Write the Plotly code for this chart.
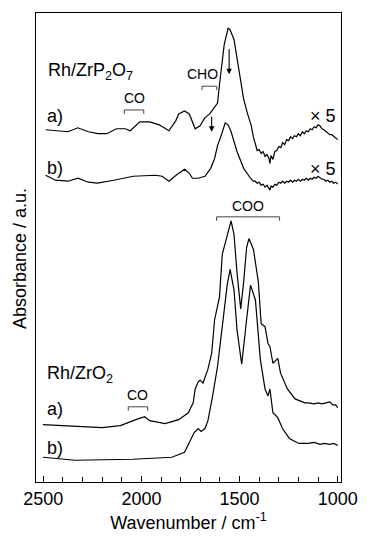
import plotly.graph_objects as go

# ---------------- data ----------------
# Rh/ZrP2O7 a)
zp_a_wn = [2488, 2438, 2374, 2324, 2270, 2221, 2176, 2127, 2082, 2057, 2008, 1958, 1909, 1860,
           1825, 1810, 1780, 1756, 1726, 1701, 1677, 1652, 1627, 1612, 1602, 1592, 1578, 1558,
           1548, 1528, 1503, 1479, 1459,
           1440, 1430, 1420, 1410, 1400, 1390, 1380, 1370, 1360, 1350, 1345, 1340, 1330, 1320,
           1310, 1300, 1290, 1280, 1270, 1260, 1250, 1240, 1230, 1220, 1210, 1200, 1190, 1180,
           1170, 1160, 1150, 1140, 1130, 1120, 1110, 1100, 1090, 1080, 1070, 1060, 1050, 1040,
           1030, 1020, 1010, 1000]
zp_a_abs = [3.56, 3.55, 3.54, 3.58, 3.54, 3.52, 3.52, 3.57, 3.57, 3.55, 3.64, 3.64, 3.61, 3.55,
            3.65, 3.72, 3.75, 3.72, 3.57, 3.60, 3.68, 3.72, 3.79, 3.83, 4.02, 4.20, 4.42, 4.59,
            4.57, 4.47, 4.14, 3.87, 3.72,
            3.60, 3.49, 3.41, 3.35, 3.36, 3.32, 3.34, 3.29, 3.31, 3.27, 3.22, 3.30, 3.26, 3.34,
            3.35, 3.39, 3.38, 3.43, 3.41, 3.46, 3.45, 3.49, 3.47, 3.50, 3.49, 3.52, 3.50, 3.54,
            3.52, 3.55, 3.54, 3.57, 3.56, 3.59, 3.58, 3.61, 3.60, 3.57, 3.56, 3.54, 3.53, 3.51,
            3.51, 3.49, 3.48, 3.46]

# Rh/ZrP2O7 b)
zp_b_wn = [2488, 2438, 2374, 2324, 2270, 2225, 2141, 2097, 2042, 1929, 1894, 1860, 1817, 1780,
           1756, 1740, 1711, 1676, 1647, 1627, 1612, 1592, 1573, 1558, 1543, 1513, 1479, 1444,
           1440, 1430, 1420, 1410, 1400, 1390, 1380, 1370, 1360, 1350, 1345, 1340, 1330, 1320,
           1310, 1300, 1290, 1280, 1270, 1260, 1250, 1240, 1230, 1220, 1210, 1200, 1190, 1180,
           1170, 1160, 1150, 1140, 1130, 1120, 1110, 1100, 1090, 1080, 1070, 1060, 1050, 1040,
           1030, 1020, 1010, 1000]
zp_b_abs = [3.10, 3.05, 3.04, 3.07, 3.03, 3.02, 3.05, 3.07, 3.09, 3.10, 3.09, 3.04, 3.11, 3.16,
            3.12, 3.07, 3.07, 3.09, 3.17, 3.27, 3.40, 3.51, 3.63, 3.61, 3.54, 3.34, 3.17, 3.07,
            3.06, 3.04, 3.04, 3.02, 3.03, 3.00, 3.01, 2.98, 3.00, 2.97, 2.95, 2.99, 2.98, 3.01,
            3.00, 3.03, 3.02, 3.04, 3.02, 3.04, 3.03, 3.05, 3.03, 3.05, 3.04, 3.06, 3.04, 3.06,
            3.05, 3.07, 3.05, 3.07, 3.06, 3.08, 3.07, 3.09, 3.07, 3.06, 3.06, 3.04, 3.05, 3.03,
            3.04, 3.02, 3.03, 3.01]

# Rh/ZrO2 a)
zo_a_wn = [2502, 2369, 2200, 2107, 2057, 2028, 1983, 1958, 1879, 1810, 1761, 1736, 1726, 1711,
           1701, 1686, 1661, 1642, 1627, 1617, 1602, 1588, 1568, 1553, 1543, 1528, 1513, 1494,
           1479, 1464, 1452, 1429, 1404, 1390, 1370, 1355, 1345, 1330, 1305, 1291, 1256, 1217,
           1167, 1150, 1120, 1100, 1080, 1060, 1040, 1025, 1010, 1000]
zo_a_abs = [0.58, 0.57, 0.55, 0.57, 0.61, 0.63, 0.66, 0.62, 0.59, 0.63, 0.70, 0.80, 0.94, 1.01,
            1.03, 1.00, 1.14, 1.30, 1.64, 1.72, 1.87, 2.30, 2.44, 2.57, 2.64, 2.50, 2.12, 1.75,
            2.02, 2.37, 2.46, 2.35, 2.02, 1.60, 1.57, 1.40, 1.37, 1.20, 1.25, 1.10, 0.94, 0.84,
            0.80, 0.80, 0.79, 0.80, 0.79, 0.80, 0.81, 0.78, 0.78, 0.75]

# Rh/ZrO2 b)
zo_b_wn = [2502, 2339, 2042, 1894, 1845, 1780, 1746, 1731, 1711, 1696, 1676, 1661, 1637, 1612,
           1588, 1563, 1548, 1528, 1513, 1489, 1464, 1444, 1419, 1394, 1370, 1355, 1345, 1330,
           1305, 1281, 1246, 1197, 1150, 1120, 1090, 1068, 1040, 1020, 1000]
zo_b_abs = [0.25, 0.22, 0.23, 0.24, 0.25, 0.30, 0.44, 0.50, 0.54, 0.51, 0.54, 0.62, 0.87, 1.17,
            1.57, 1.99, 2.15, 1.94, 1.54, 1.19, 1.64, 1.99, 1.84, 1.24, 0.94, 0.87, 0.94, 0.70,
            0.65, 0.54, 0.44, 0.39, 0.39, 0.40, 0.38, 0.39, 0.38, 0.39, 0.37]

x_tick_vals = [2500, 2000, 1500, 1000]
x_tick_text = ["2500", "2000", "1500", "1000"]

FONT = "Liberation Sans, Arial, sans-serif"

fig = go.Figure()
for wn, ab in [(zp_a_wn, zp_a_abs), (zp_b_wn, zp_b_abs), (zo_a_wn, zo_a_abs), (zo_b_wn, zo_b_abs)]:
    fig.add_trace(go.Scatter(x=wn, y=ab, mode="lines", line=dict(color="black", width=1.2),
                             showlegend=False, hoverinfo="skip"))

# brackets
def bracket(x0, x1, y, drop):
    fig.add_shape(type="path",
                  path=f"M {x0} {y - drop} L {x0} {y} L {x1} {y} L {x1} {y - drop}",
                  xref="x", yref="y", line=dict(color="#444", width=1))

bracket(2087, 1988, 3.76, 0.04)
bracket(1691, 1616, 4.00, 0.04)
bracket(1617, 1296, 2.68, 0.04)
bracket(2067, 1968, 0.76, 0.04)

def txt(x, y, s, size=18, xanchor="left"):
    fig.add_annotation(x=x, y=y, xref="x", yref="y", text=s, showarrow=False,
                       xanchor=xanchor, yanchor="middle", font=dict(size=size, color="black", family=FONT))

txt(2037, 3.88, "CO", 14, "center")
txt(1689, 4.12, "CHO", 14, "center")
txt(1459, 2.79, "COO", 14, "center")
txt(2018, 0.88, "CO", 14, "center")

txt(2485, 4.15, "Rh/ZrP<sub>2</sub>O<sub>7</sub>")
txt(2492, 3.70, "a)")
txt(2492, 3.17, "b)")
txt(1150, 3.70, "× 5")
txt(1150, 3.16, "× 5")
txt(2490, 1.09, "Rh/ZrO<sub>2</sub>")
txt(2492, 0.74, "a)")
txt(2492, 0.34, "b)")

# arrows
for xa, y_tail, y_tip in [(1553, 4.39, 4.12), (1642, 3.71, 3.54)]:
    fig.add_annotation(x=xa, y=y_tip, ax=xa, ay=y_tail, xref="x", yref="y", axref="x", ayref="y",
                       showarrow=True, arrowhead=2, arrowsize=1, arrowwidth=1.1, arrowcolor="black",
                       text="")

# y-axis title
fig.add_annotation(x=-0.05, y=0.477, xref="paper", yref="paper", text="Absorbance / a.u.",
                   textangle=-90, showarrow=False, xanchor="center", yanchor="middle",
                   font=dict(size=18, color="black", family=FONT))

fig.update_layout(
    width=370, height=541,
    margin=dict(l=36, r=20, t=13, b=54),
    paper_bgcolor="white", plot_bgcolor="white",
    font=dict(family=FONT, color="black", size=18),
    xaxis=dict(range=[2537, 983], showline=True, mirror=True, linecolor="black", linewidth=1.3,
               ticks="inside", ticklen=6, tickwidth=1, tickcolor="black",
               tickvals=x_tick_vals, ticktext=x_tick_text, showgrid=False, zeroline=False,
               tickfont=dict(size=18, family=FONT, color="black"),
               minor=dict(dtick=100, tick0=1000, ticks="inside", ticklen=5, tickwidth=1, tickcolor="black"),
               title=dict(text="Wavenumber / cm<sup>-1</sup>", font=dict(size=18, family=FONT, color="black"),
                          standoff=8)),
    yaxis=dict(range=[0, 4.74], showline=True, mirror=True, linecolor="black", linewidth=1.3,
               showticklabels=False, ticks="", showgrid=False, zeroline=False),
)

fig.write_html("out.html")
